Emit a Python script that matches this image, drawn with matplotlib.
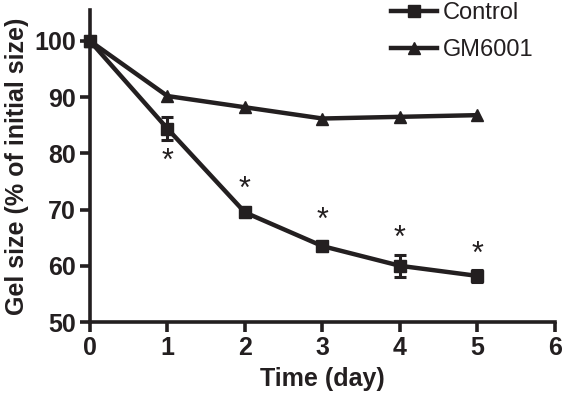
import matplotlib
matplotlib.use("Agg")
import matplotlib.pyplot as plt

plt.rcParams['font.family'] = ['Liberation Sans', 'DejaVu Sans']

days = [0, 1, 2, 3, 4, 5]
control = [100, 84.4, 69.5, 63.5, 60.0, 58.2]
control_err = [0.8, 2.0, 0.8, 0.8, 2.0, 1.0]
gm6001 = [100, 90.2, 88.2, 86.2, 86.5, 86.8]
star_days = [1, 2, 3, 4, 5]
star_y = [78.5, 73.5, 68.0, 64.8, 62.0]

ink = '#231f20'

fig = plt.figure(figsize=(5.62, 4.01), dpi=100)
ax = fig.add_axes([0.160, 0.197, 0.8275, 0.778])

ax.errorbar(days, control, yerr=control_err, fmt='none', ecolor=ink,
            capsize=4.5, capthick=2.2, elinewidth=2.2, clip_on=False, zorder=3)
l1, = ax.plot(days, control, color=ink, lw=3.2, marker='s', ms=9,
              label='Control', clip_on=False, zorder=4)
l2, = ax.plot(days, gm6001, color=ink, lw=3.2, marker='^', ms=9,
              label='GM6001', clip_on=False, zorder=4)

for x, y in zip(star_days, star_y):
    ax.text(x, y, '*', ha='center', va='center', fontsize=22, color=ink)

ax.set_xlim(0, 6)
ax.set_ylim(50, 105.5)
ax.set_xticks(range(0, 7))
ax.set_yticks(range(50, 101, 10))
for s in ['top', 'right']:
    ax.spines[s].set_visible(False)
for s in ['left', 'bottom']:
    ax.spines[s].set_linewidth(2.6)
    ax.spines[s].set_color(ink)
ax.tick_params(width=2.6, length=7, color=ink, labelsize=18,
               labelcolor=ink, pad=3)
for lab in ax.get_xticklabels() + ax.get_yticklabels():
    lab.set_fontweight('bold')

ax.set_xlabel('Time (day)', fontsize=18, fontweight='bold', color=ink, labelpad=5)
ax.set_ylabel('Gel size (% of initial size)', fontsize=18, fontweight='bold',
              color=ink, labelpad=4)

ax.legend(handles=[l1, l2], loc='upper right', bbox_to_anchor=(0.985, 1.07),
          frameon=False, fontsize=17, handlelength=1.95, labelspacing=0.62,
          handletextpad=0.25, labelcolor=ink, borderaxespad=0.2)

fig.savefig('out.png', dpi=100)
